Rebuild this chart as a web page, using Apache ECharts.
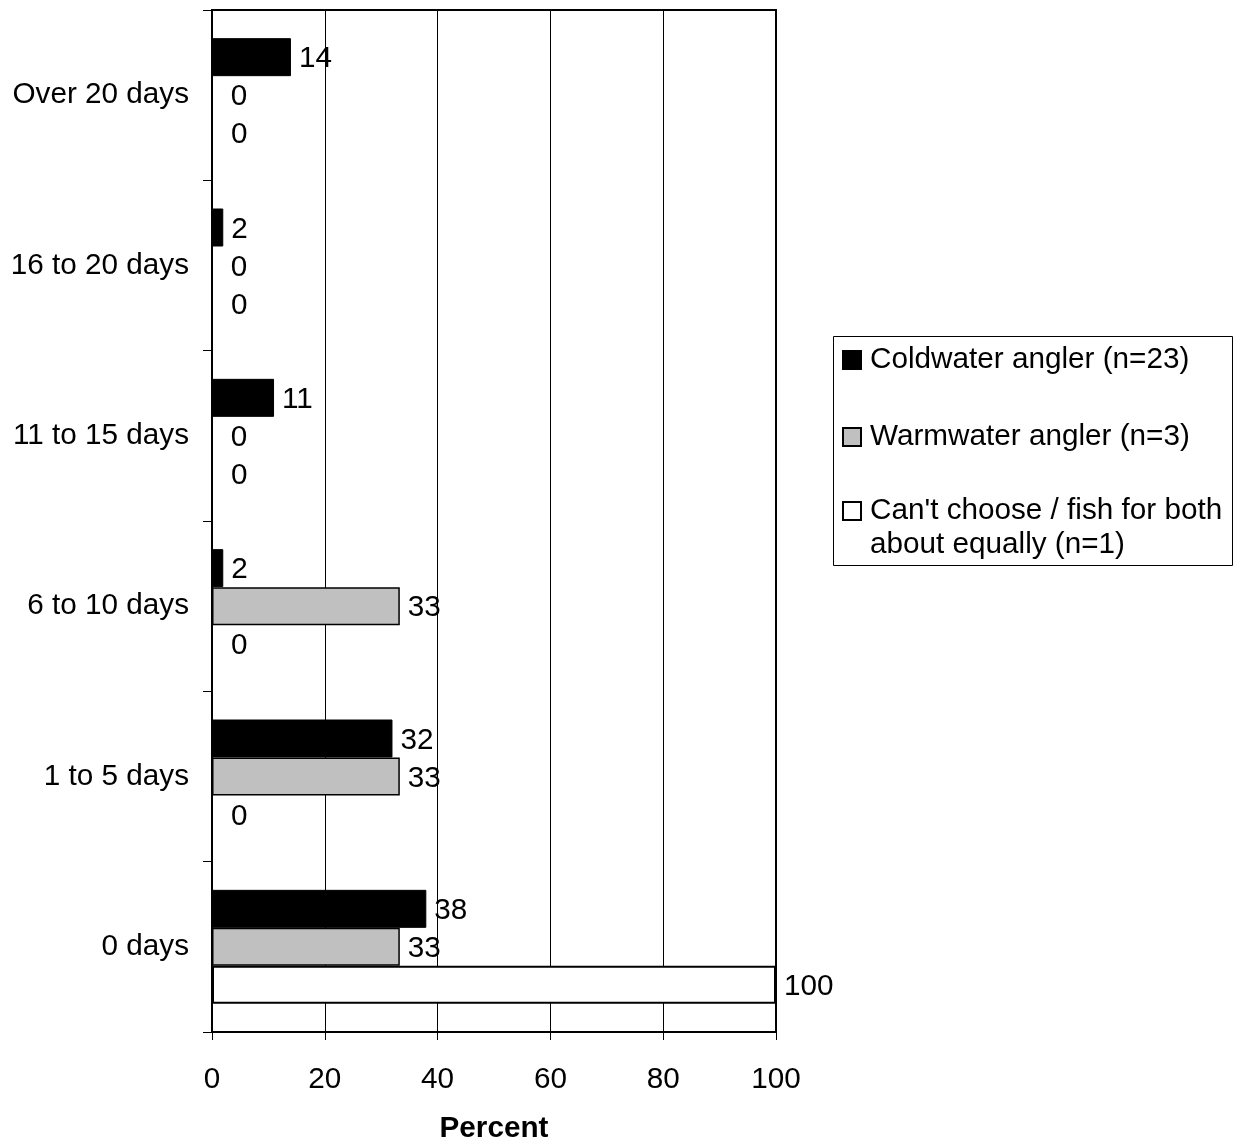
<!DOCTYPE html>
<html>
<head>
<meta charset="utf-8">
<script src="https://cdn.jsdelivr.net/npm/echarts@6/dist/echarts.min.js"></script>
<style>html,body{margin:0;padding:0;background:#fff;}#c{width:1233px;height:1139px;}</style>
</head>
<body>
<div id="c"></div>
<script>
const categories = ['Over 20 days', '16 to 20 days', '11 to 15 days', '6 to 10 days', '1 to 5 days', '0 days'];
const seriesNames = ['Coldwater angler (n=23)', 'Warmwater angler (n=3)', "Can't choose / fish for both about equally (n=1)"];
const coldwater = [14, 2, 11, 2, 32, 38];
const warmwater = [0, 0, 0, 33.3, 33.3, 33.3];
const both = [0, 0, 0, 0, 0, 100];
const xTicks = [0, 20, 40, 60, 80, 100];

const FONT = "'Liberation Sans', Arial, sans-serif";
const FS = 29.7;

function toData(arr) {
  return arr.map(v => ({ value: v, label: { distance: v === 0 ? 18 : 8 } }));
}

function barSeries(name, arr, color, bw) {
  return {
    name: name,
    type: 'bar',
    data: toData(arr),
    barWidth: 38,
    barGap: '0%',
    itemStyle: { color: color, borderColor: '#000', borderWidth: bw },
    label: {
      show: true, position: 'right', color: '#000', fontSize: FS, fontFamily: FONT,
      offset: [0, 2],
      formatter: p => String(Math.round(p.value))
    },
    emphasis: { disabled: true },
    animation: false
  };
}

const chart = echarts.init(document.getElementById('c'), null, { renderer: 'canvas' });
chart.setOption({
  animation: false,
  backgroundColor: '#fff',
  grid: { left: 212, right: 457, top: 10, bottom: 107, containLabel: false, outerBoundsMode: 'none', show: true, borderColor: '#000', borderWidth: 2, backgroundColor: 'transparent' },
  xAxis: {
    type: 'value', min: xTicks[0], max: xTicks[xTicks.length - 1], interval: 20,
    name: 'Percent', nameLocation: 'middle', nameGap: 82,
    nameTextStyle: { fontSize: FS, fontWeight: 'bold', color: '#000', fontFamily: FONT },
    axisLine: { show: true, lineStyle: { color: '#000', width: 2 } },
    axisTick: { show: true, length: 8, lineStyle: { color: '#000', width: 1 } },
    axisLabel: { fontSize: FS, color: '#000', fontFamily: FONT, margin: 33 },
    splitLine: { show: true, lineStyle: { color: '#000', width: 1 } }
  },
  yAxis: {
    type: 'category', inverse: true, data: categories,
    axisLine: { show: true, lineStyle: { color: '#000', width: 2 } },
    axisTick: { show: true, length: 9, lineStyle: { color: '#000', width: 1 } },
    axisLabel: { fontSize: FS, color: '#000', fontFamily: FONT, margin: 23, padding: [10, 0, 0, 0] },
    splitLine: { show: false }
  },
  legend: [
    {
      left: 842, top: 343, padding: 0, orient: 'vertical', icon: 'rect', itemWidth: 18, itemHeight: 18,
      selectedMode: false, data: [seriesNames[0]],
      textStyle: { fontSize: FS, color: '#000', fontFamily: FONT, lineHeight: 34, padding: [0, 0, 0, 4] }
    },
    {
      left: 842, top: 420, padding: 0, orient: 'vertical', icon: 'rect', itemWidth: 18, itemHeight: 18,
      selectedMode: false, data: [seriesNames[1]],
      textStyle: { fontSize: FS, color: '#000', fontFamily: FONT, lineHeight: 34, padding: [0, 0, 0, 4] }
    },
    {
      left: 842, top: 460, padding: 0, orient: 'vertical', icon: 'rect', itemWidth: 18, itemHeight: 18,
      selectedMode: false, data: [seriesNames[2]],
      formatter: () => "\nCan't choose / fish for both\nabout equally (n=1)",
      textStyle: { fontSize: FS, color: '#000', fontFamily: FONT, lineHeight: 34, padding: [0, 0, 0, 4] }
    }
  ],
  graphic: [
    { type: 'rect', silent: true, shape: { x: 833.5, y: 336.5, width: 399, height: 229 }, style: { fill: 'none', stroke: '#000', lineWidth: 1 } }
  ],
  series: [
    barSeries(seriesNames[0], coldwater, '#000000', 1),
    barSeries(seriesNames[1], warmwater, '#c0c0c0', 1.5),
    barSeries(seriesNames[2], both, '#ffffff', 2)
  ]
});
</script>
</body>
</html>
